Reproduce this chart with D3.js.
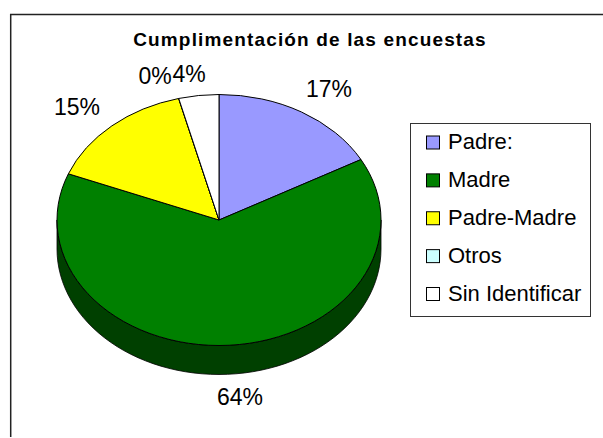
<!DOCTYPE html>
<html><head><meta charset="utf-8">
<script src="https://cdn.jsdelivr.net/npm/d3@7"></script>
<style>html,body{margin:0;padding:0;background:#fff}svg{display:block}text{font-family:"Liberation Sans",Arial,sans-serif;fill:#000}</style>
</head><body><svg id="c" width="603" height="438"></svg>
<script>
const categories=["Padre:","Madre","Padre-Madre","Otros","Sin Identificar"];
const values=[17,64,15,0,4];
const labels=["17%","64%","15%","0%","4%"];
const colors=["#9999ff","#008000","#ffff00","#ccffff","#ffffff"];
const sideColors=["#4d4d80","#004000","#808000","#668080","#808080"];
const chartTitle="Cumplimentación de las encuestas";
const labelPos=[[329,97],[240,405],[77,115],[155,84],[189,82]];

const svg=d3.select("#c");
const cx=219,cy=220,rx=162,ry=125.5,depth=29;
svg.append("path").attr("d","M10.7,437V14.5H603").attr("fill","none").attr("stroke","#222").attr("stroke-width",1.5);
svg.append("text").attr("x",310).attr("y",45.7).attr("text-anchor","middle").attr("font-size",19).attr("letter-spacing",1.15).attr("font-weight","bold").text(chartTitle);

const arcs=d3.pie().sort(null)(values);
const px=a=>cx+rx*Math.sin(a), py=a=>cy-ry*Math.cos(a);
const rim=d3.line();
const g=svg.append("g");
arcs.forEach((d,i)=>{
  const a0=Math.max(d.startAngle,Math.PI/2),a1=Math.min(d.endAngle,3*Math.PI/2);
  if(a1<=a0)return;
  const t=d3.range(0,61).map(k=>a0+(a1-a0)*k/60);
  const top=t.map(a=>[px(a),py(a)]), bottom=t.slice().reverse().map(a=>[px(a),py(a)+depth]);
  g.append("path").attr("d",rim(top.concat(bottom))+"Z").attr("fill",sideColors[i]).attr("stroke","#000").attr("stroke-width",0.8);
});
const arc=d3.arc().innerRadius(0).outerRadius(rx);
const tg=svg.append("g").attr("transform",`translate(${cx},${cy}) scale(1,${ry/rx})`);
tg.selectAll("path").data(arcs).join("path").attr("d",arc)
  .attr("fill",(d,i)=>colors[i]).attr("stroke","#000").attr("stroke-width",1).attr("vector-effect","non-scaling-stroke");

svg.selectAll("text.l").data(labels).join("text").attr("class","l")
  .attr("x",(d,i)=>labelPos[i][0]).attr("y",(d,i)=>labelPos[i][1]).attr("text-anchor","middle").attr("font-size",23).text(d=>d);

svg.append("rect").attr("x",410.5).attr("y",123.5).attr("width",180).attr("height",193).attr("fill","#fff").attr("stroke","#333").attr("stroke-width",1);
const ly=d3.scalePoint().domain(categories).range([142.5,294]);
const lg=svg.selectAll("g.lg").data(categories).join("g").attr("class","lg").attr("transform",d=>`translate(0,${ly(d)})`);
lg.append("rect").attr("x",426.5).attr("y",-6.5).attr("width",13).attr("height",13).attr("fill",(d,i)=>colors[i]).attr("stroke","#000").attr("stroke-width",1);
lg.append("text").attr("x",448).attr("y",6.5).attr("font-size",22).text(d=>d);
</script></body></html>
